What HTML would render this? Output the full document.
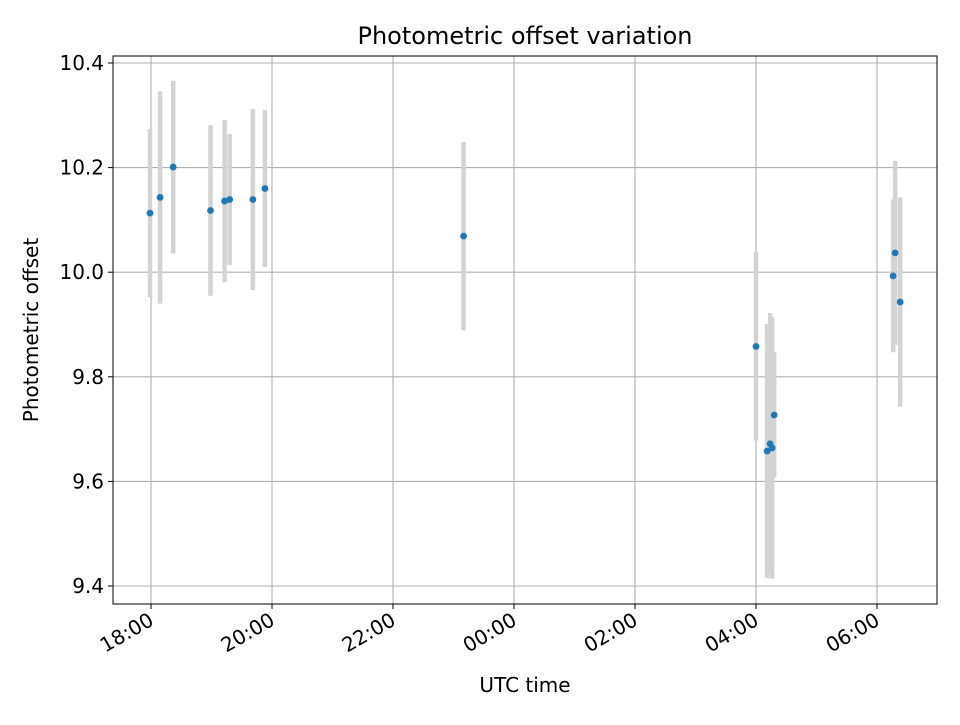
<!DOCTYPE html>
<html><head><meta charset="utf-8"><style>
body{margin:0;background:#fff}
svg{font-family:"DejaVu Sans","Liberation Sans",sans-serif}
</style></head><body>
<svg id="chart" width="960" height="720" viewBox="0 0 960 720">
<rect width="960" height="720" fill="#fff"/>
<text x="525" y="44" font-size="24" text-anchor="middle">Photometric offset variation</text>
<text transform="translate(38,330) rotate(-90)" font-size="20" text-anchor="middle">Photometric offset</text>
<text x="525" y="692" font-size="20" text-anchor="middle">UTC time</text>
<g id="grid"></g><g id="bars"></g><g id="pts"></g><g id="axes"></g>
</svg>
<script>
const times=["17:59","18:09","18:22","18:59","19:13","19:18","19:41","19:53","23:10","04:00","04:11","04:14","04:16","04:18","06:16","06:18","06:23"];
const offsets=[10.113,10.143,10.201,10.118,10.136,10.139,10.139,10.160,10.069,9.858,9.658,9.672,9.664,9.727,9.993,10.037,9.943];
const errors=[0.161,0.203,0.165,0.163,0.155,0.125,0.173,0.150,0.180,0.180,0.243,0.250,0.250,0.120,0.146,0.176,0.200];
const yTicks=[9.4,9.6,9.8,10.0,10.2,10.4];
const xTickLabels=["18:00","20:00","22:00","00:00","02:00","04:00","06:00"];
const L=113,R=937,T=56,B=604;
const NS="http://www.w3.org/2000/svg";
function mins(s){let [h,m]=s.split(":").map(Number);let t=(h*60+m)-18*60;if(t<-120)t+=1440;return t;}
const xMin=-37.7,xMax=779.5;
function X(t){return L+(t-xMin)/(xMax-xMin)*(R-L);}
function Y(v){return 63+(10.4-v)*523;}
function el(tag,attrs,parent,name,inter){const e=document.createElementNS(NS,tag);for(const k in attrs)e.setAttribute(k,attrs[k]);


document.getElementById(parent).appendChild(e);return e;}
yTicks.forEach(v=>{const y=Y(v);
el('line',{x1:L,x2:R,y1:y,y2:y,stroke:'#b0b0b0','stroke-width':1.1},'grid','y-gridline','false');
el('line',{x1:L-5,x2:L,y1:y,y2:y,stroke:'#000','stroke-width':1},'axes','y-tick','false');
const t=el('text',{x:L-9,y:y+7,'font-size':20,'text-anchor':'end'},'axes','y-tick-label','false');t.textContent=v.toFixed(1);});
xTickLabels.forEach(s=>{const x=X(mins(s));
el('line',{x1:x,x2:x,y1:T,y2:B,stroke:'#b0b0b0','stroke-width':1.1},'grid','x-gridline','false');
el('line',{x1:x,x2:x,y1:B,y2:B+5,stroke:'#000','stroke-width':1},'axes','x-tick','false');
const t=el('text',{x:x+4,y:B+20,'font-size':20,'text-anchor':'end',transform:`rotate(-30 ${x+4} ${B+20})`},'axes','x-tick-label','false');t.textContent=s;});
times.forEach((s,i)=>{const x=X(mins(s));
el('line',{x1:x,x2:x,y1:Y(offsets[i]+errors[i]),y2:Y(offsets[i]-errors[i]),stroke:'#d3d3d3','stroke-width':4.5},'bars','error-bar','false');});
times.forEach((s,i)=>{el('circle',{cx:X(mins(s)),cy:Y(offsets[i]),r:3.4,fill:'#1f77b4'},'pts','data-point','true');});
el('rect',{x:L,y:T,width:R-L,height:B-T,fill:'none',stroke:'#000','stroke-width':1},'axes','plot-frame','false');
</script>
</body></html>
